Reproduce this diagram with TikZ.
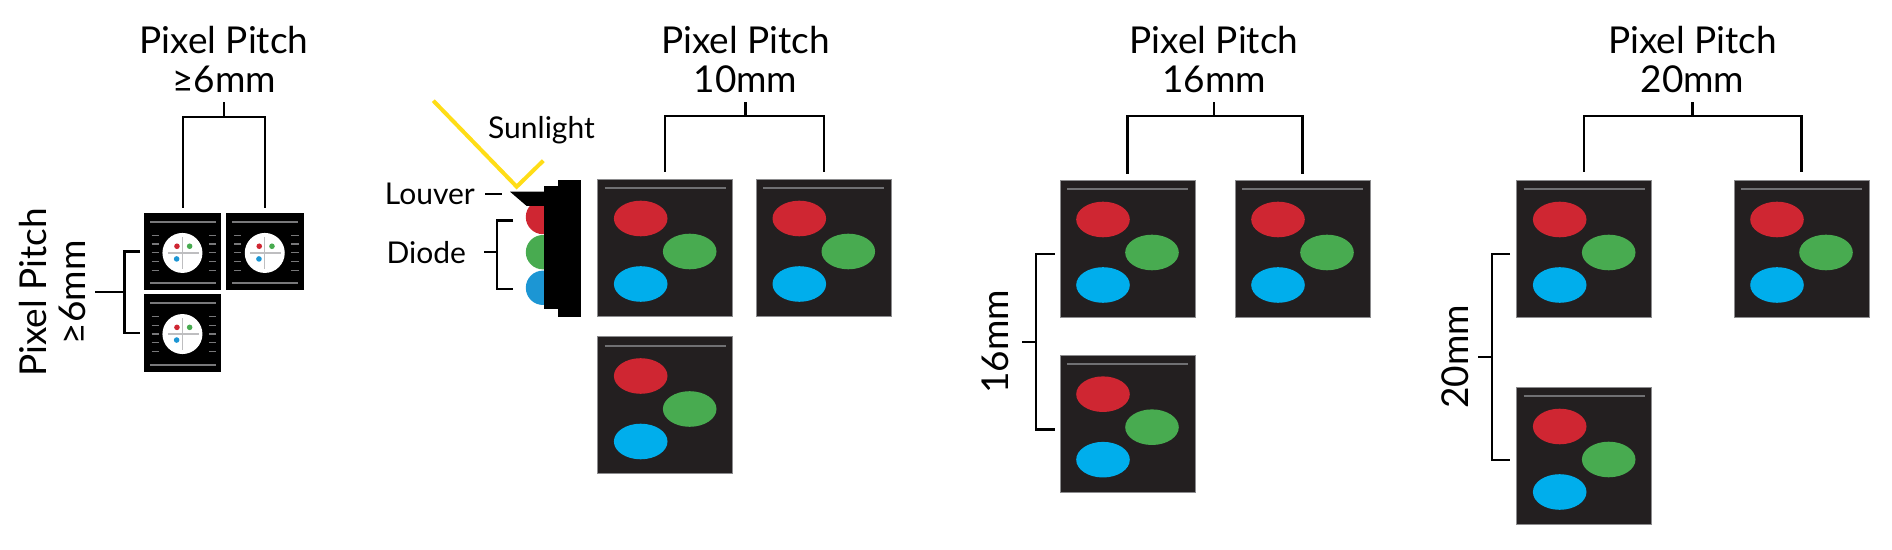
\documentclass[tikz,border=0pt]{standalone}
\usepackage{fontspec}
\setmainfont{Lato}
\usetikzlibrary{positioning}
\definecolor{panel}{RGB}{35,31,32}
\definecolor{edgegray}{RGB}{140,140,142}
\definecolor{linegray}{RGB}{112,112,115}
\definecolor{dimgray}{RGB}{120,120,122}
\definecolor{crossgray}{RGB}{190,190,192}
\definecolor{ledred}{RGB}{207,38,50}
\definecolor{ledgreen}{RGB}{72,171,80}
\definecolor{ledblue}{RGB}{0,174,236}
\definecolor{diodeblue}{RGB}{28,150,212}
\definecolor{sunyellow}{RGB}{255,221,23}

\begin{document}
\begin{tikzpicture}[x=0.5pt,y=-0.5pt,line width=1.2pt,
    title/.style={align=center,inner sep=0pt,font=\fontsize{18.5}{19.6}\selectfont},
    side/.style={title,rotate=90},
    txt/.style={inner sep=0pt,font=\fontsize{15}{17}\selectfont},
    ray/.style={draw=sunyellow,line width=2pt},
    diode/.style={circle,inner sep=0pt,minimum size=17.2pt},
    bigpx/.style={rectangle,draw=edgegray,line width=0.5pt,fill=panel,inner sep=0pt,
      minimum width=67.5pt,minimum height=68.5pt,
      path picture={
        \coordinate (o) at (path picture bounding box.north west);
        \draw[linegray,line width=1pt] ([shift={(7,9)}]o) -- ++(121,0);
        \fill[ledred] ([shift={(43,39)}]o) ellipse (13.4pt and 8.9pt);
        \fill[ledgreen] ([shift={(92,72)}]o) ellipse (13.4pt and 8.9pt);
        \fill[ledblue] ([shift={(43,104.5)}]o) ellipse (13.4pt and 8.9pt);}},
    smallpx/.style={rectangle,fill=black,inner sep=0pt,minimum size=38.75pt,
      path picture={
        \coordinate (o) at (path picture bounding box.north west);
        \draw[dimgray,line width=1pt] ([shift={(6,9)}]o) -- ++(66,0)
          ([shift={(6,70.5)}]o) -- ++(66,0);
        \foreach \k in {0,...,4}
          \draw[dimgray,line width=0.6pt] ([shift={(7.7,22.3+8.8*\k)}]o) -- ++(7.3,0)
            ([shift={(65,22.3+8.8*\k)}]o) -- ++(7.3,0);
        \fill[white] ([shift={(38.5,40)}]o) circle (10pt);
        \draw[crossgray,line width=0.6pt] ([shift={(24,40)}]o) -- ++(31,0)
          ([shift={(38.5,24)}]o) -- ++(0,32);
        \fill[ledred] ([shift={(33,33.3)}]o) circle (1.4pt);
        \fill[ledgreen] ([shift={(45.7,33.3)}]o) circle (1.4pt);
        \fill[diodeblue] ([shift={(32.7,46)}]o) circle (1.4pt);}}]
  \useasboundingbox (0,0) rectangle (1892,550);

  % pixel squares
  \node[smallpx] (a1) at (182.7,251.7) {};
  \node[smallpx] (a2) at (265,251.7) {};
  \node[smallpx] (a3) at (182.7,332.8) {};
  \node[bigpx] (b1) at (665.2,248) {};
  \node[bigpx] (b2) at (823.8,248) {};
  \node[bigpx] (b3) at (665.2,405.5) {};
  \node[bigpx] (c1) at (1127.5,249) {};
  \node[bigpx] (c2) at (1302.5,249) {};
  \node[bigpx] (c3) at (1127.5,423.7) {};
  \node[bigpx] (d1) at (1584.2,249) {};
  \node[bigpx] (d2) at (1801.5,249) {};
  \node[bigpx] (d3) at (1584.2,456) {};

  % titles and top brackets
  \node[title,anchor=north] (t6) at (224,25) {Pixel Pitch\\≥6mm};
  \node[title,anchor=north] (t10) at (745.5,25) {Pixel Pitch\\10mm};
  \node[title,anchor=north] (t16) at (1214,25) {Pixel Pitch\\16mm};
  \node[title,anchor=north] (t20) at (1692.5,25) {Pixel Pitch\\20mm};

  \draw ([shift={(0,8)}]t6.south) -- ++(0,15) coordinate (j6);
  \draw ([shift={(0,-4)}]a1.north) |- (j6) -| ([shift={(0,-4)}]a2.north);
  \draw ([shift={(0,8)}]t10.south) -- ++(0,14) coordinate (j10);
  \draw ([shift={(0,-7)}]b1.north) |- (j10) -| ([shift={(0,-7)}]b2.north);
  \draw ([shift={(0,8)}]t16.south) -- ++(0,14) coordinate (j16);
  \draw ([shift={(0,-6)}]c1.north) |- (j16) -| ([shift={(0,-6)}]c2.north);
  \draw ([shift={(0,8)}]t20.south) -- ++(0,14) coordinate (j20);
  \draw ([shift={(0,-8)}]d1.north) |- (j20) -| ([shift={(0,-8)}]d2.north);

  % side brackets
  \draw ([shift={(-2.6,0)}]a1.west) -- ++(-15.7,0) |- ([shift={(-2.6,0)}]a3.west);
  \path ([shift={(-18.3,0)}]a1.west) -- ([shift={(-18.3,0)}]a3.west) coordinate[midway] (m6);
  \node[side,anchor=south] (l6) at ([shift={(-37.7,0)}]m6) {Pixel Pitch\\≥6mm};
  \draw (m6) -- ([shift={(8.4,0)}]l6.south);

  \draw ([shift={(-5,5)}]c1.west) -- ++(-18.3,0) |- ([shift={(-5,6)}]c3.west);
  \path ([shift={(-23.3,5)}]c1.west) -- ([shift={(-23.3,6)}]c3.west) coordinate[midway] (m16);
  \node[side,anchor=south] (l16) at ([shift={(-26.7,0)}]m16) {16mm};
  \draw (m16) -- ([shift={(12,0)}]l16.south);

  \draw ([shift={(-6,5)}]d1.west) -- ++(-18.4,0) |- ([shift={(-6,4)}]d3.west);
  \path ([shift={(-24.4,5)}]d1.west) -- ([shift={(-24.4,4)}]d3.west) coordinate[midway] (m20);
  \node[side,anchor=south] (l20) at ([shift={(-22.3,0)}]m20) {20mm};
  \draw (m20) -- ([shift={(8.3,0)}]l20.south);

  % side view of the module
  \node[diode,fill=ledred] (dr) at (543,217) {};
  \node[diode,fill=ledgreen] (dg) at (543,252.2) {};
  \node[diode,fill=diodeblue] (db) at (543,287.8) {};
  \fill (510,191.7) -- (544.3,191.7) -- (544.3,206) -- (526.7,206) -- cycle;
  \fill (544.3,186) rectangle (558.3,309.3);
  \fill (558.3,180) rectangle (581,316.7);
  \coordinate (lvtip) at (510,194);
  \draw[ray] (433.3,100.7) -- (516.7,186.7) -- (543.3,160.7);
  \node[txt,anchor=base west] (sun) at (487,138.3) {Sunlight};
  \node[txt,anchor=east] (louver) at ([shift={(-34,0)}]lvtip) {Louver};
  \draw ([shift={(9,0)}]louver.east) -- ([shift={(-7.7,0)}]lvtip);
  \draw ([shift={(-11.5,3.5)}]dr.west) -- ++(-16,0) |- ([shift={(-11.5,1.5)}]db.west);
  \node[txt,anchor=east] (diode) at ([shift={(-57.5,0)}]dg.west) {Diode};
  \draw ([shift={(-27.5,0)}]dg.west) -- ([shift={(16.7,0)}]diode.east);
\end{tikzpicture}
\end{document}
